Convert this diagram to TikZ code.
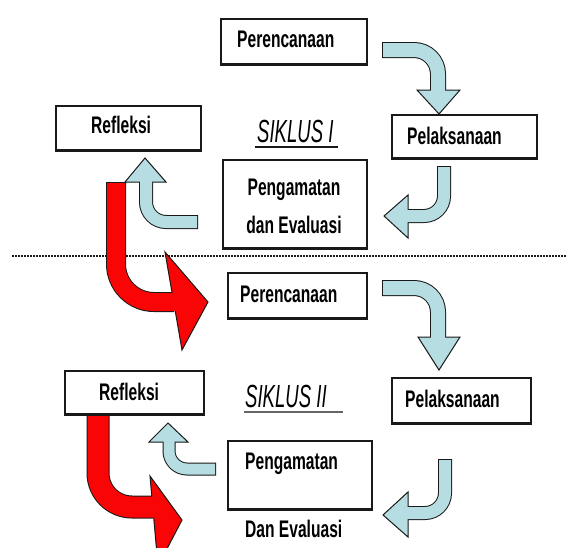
\documentclass[tikz,border=0pt]{standalone}
\usepackage{fontspec}
\setmainfont{Liberation Sans}
\newfontfamily\boxfont{Liberation Sans}[FakeStretch=0.65]
\newfontfamily\sikfont{Liberation Sans}[FakeStretch=0.58]
\definecolor{arrowblue}{RGB}{181,221,226}
\definecolor{arrowred}{RGB}{250,5,5}
\definecolor{outl}{RGB}{25,25,25}
% #1 fill, #2 shaft width, #3 corner radius, #4 shaft path, #5 head polygon
\newcommand\fatarrow[5]{%
  \draw[line width={#2+2pt}, draw=outl, rounded corners=#3, shorten <=-1pt] #4;
  \filldraw[fill=#1, draw=outl, line width=1pt, line join=miter] #5 -- cycle;
  \draw[line width=#2, draw=#1, rounded corners=#3, shorten >=-2pt] #4;
}
\begin{document}
\begin{tikzpicture}[x=1pt,y=-1pt,
  box/.style={draw=outl, line width=1.5pt, fill=white, inner sep=0pt, anchor=north west},
  lbl/.style={font=\fontsize{24}{28}\selectfont\boxfont\bfseries, inner sep=0pt, anchor=base west},
  sik/.style={font=\fontsize{32}{36}\selectfont\sikfont\itshape, inner sep=0pt, anchor=base west},
  shadowline/.style={draw=outl, line width=3pt}
]
\useasboundingbox (0,0) rectangle (567,547);
\fill[white] (0,0) rectangle (567,547);
\clip (0,0) rectangle (567,547);

% dotted separator
\coordinate (dl) at (12,256);
\coordinate (dr) at (567,256);
\draw[outl, line width=1.6pt, dash pattern=on 2pt off 1pt] (dl) -- (dr);

% red arrows
\fatarrow{arrowred}{18pt}{38pt}{(116,183) -- (116,302) -- (174,302)}{(165,252) -- (208,302) -- (182,350)}
\fatarrow{arrowred}{21pt}{34pt}{(98,413) -- (98,507) -- (153,507)}{(150,476) -- (182,520) -- (158,566)}

% boxes
\node[box, minimum width=146pt, minimum height=45pt] (per1) at (220,18) {};
\node[box, minimum width=145pt, minimum height=44pt] (ref1) at (55,105) {};
\node[box, minimum width=145pt, minimum height=43pt] (pel1) at (391,114) {};
\node[box, minimum width=144pt, minimum height=88pt] (pen1) at (222,159) {};
\node[box, minimum width=139pt, minimum height=45pt] (per2) at (227,272) {};
\node[box, minimum width=139pt, minimum height=43pt] (ref2) at (64,370) {};
\node[box, minimum width=139pt, minimum height=45pt] (pel2) at (391,377) {};
\node[box, minimum width=144pt, minimum height=68pt] (pen2) at (227,440) {};
\foreach \b in {per1,ref1,pel1,pen1,per2,ref2,pel2,pen2}
  \draw[shadowline] (\b.south west) -- (\b.south east);

% blue arrows, cycle I
\fatarrow{arrowblue}{14pt}{24pt}{(383,50) -- (438,50) -- (438,90)}{(417,90) -- (460,90) -- (439,114)}
\fatarrow{arrowblue}{12pt}{20pt}{(444,167) -- (444,216) -- (408,216)}{(408,195) -- (408,238) -- (384,216)}
\fatarrow{arrowblue}{12pt}{20pt}{(197,222) -- (146,222) -- (146,182)}{(125,182) -- (166,182) -- (145,158)}
% blue arrows, cycle II
\fatarrow{arrowblue}{14pt}{24pt}{(383,288) -- (438,288) -- (438,337)}{(418,337) -- (460,337) -- (439,370)}
\fatarrow{arrowblue}{12pt}{20pt}{(445,460) -- (445,513) -- (408,513)}{(408,492) -- (408,537) -- (383,515)}
\fatarrow{arrowblue}{11pt}{18pt}{(215,469) -- (169,469) -- (169,442)}{(149,442) -- (188,442) -- (168,423)}

% texts
\node[lbl] (tper1) at (237,47) {Perencanaan};
\node[lbl] (tref1) at (91,133) {Refleksi};
\node[sik] (tsik1) at (257,142) {SIKLUS I};
\coordinate (u1a) at (255,147);
\coordinate (u1b) at (338,147);
\draw[outl, line width=1.8pt] (u1a) -- (u1b);
\node[lbl] (tpel1) at (407,144) {Pelaksanaan};
\node[lbl, anchor=base] (tpen1a) at (294,195) {Pengamatan};
\node[lbl, anchor=base] (tpen1b) at (294,233) {dan Evaluasi};

\node[lbl] (tper2) at (240,302) {Perencanaan};
\node[lbl] (tref2) at (99,400) {Refleksi};
\node[sik] (tsik2) at (245,407) {SIKLUS II};
\coordinate (u2a) at (244,412);
\coordinate (u2b) at (343,412);
\draw[black!60, line width=1.3pt] (u2a) -- (u2b);
\node[lbl] (tpel2) at (405,407) {Pelaksanaan};
\node[lbl] (tpen2a) at (245,469) {Pengamatan};
\node[lbl] (tpen2b) at (245,537) {Dan Evaluasi};
\end{tikzpicture}
\end{document}
